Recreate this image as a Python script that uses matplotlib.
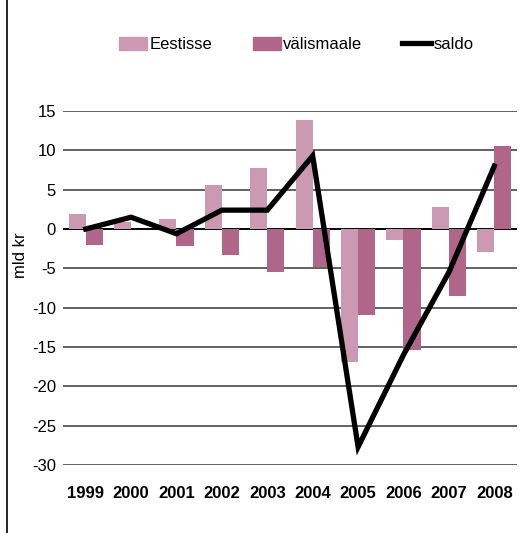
import numpy as np
import matplotlib
matplotlib.use('Agg')
import matplotlib.pyplot as plt
from matplotlib.lines import Line2D
from matplotlib.patches import Patch

plt.rcParams['font.family'] = ['Liberation Sans', 'DejaVu Sans']
plt.rcParams['axes.unicode_minus'] = False

years = ['1999', '2000', '2001', '2002', '2003', '2004', '2005', '2006', '2007', '2008']
eestisse = [1.9, 0.9, 1.3, 5.6, 7.8, 13.9, -16.9, -1.4, 2.8, -2.9]
valismaale = [-2.0, 0.0, -2.2, -3.3, -5.5, -4.8, -10.9, -15.4, -8.5, 10.5]
saldo = [0.0, 1.5, -0.6, 2.4, 2.4, 9.3, -27.7, -16.0, -5.5, 8.0]

c_light = '#cc99b3'
c_dark = '#b0668b'

fig = plt.figure(figsize=(5.27, 5.33), dpi=100)
ax = fig.add_axes([0.1195, 0.1276, 0.8615, 0.6641])

x = np.arange(len(years))
w = 0.375
ax.bar(x - w / 2, eestisse, w, color=c_light, zorder=2)
ax.bar(x + w / 2, valismaale, w, color=c_dark, zorder=2)
ax.plot(x, saldo, color='black', lw=3.8, zorder=3, solid_joinstyle='miter')

ax.set_xlim(-0.5, len(years) - 0.5)
ax.set_ylim(-30, 15)
ax.set_yticks(np.arange(-30, 16, 5))
ax.yaxis.grid(True, color='#555555', lw=1.3, zorder=0)
ax.axhline(0, color='black', lw=1.3, zorder=1)
ax.set_axisbelow(True)
for s in ax.spines.values():
    s.set_visible(False)
ax.tick_params(axis='y', length=0, pad=5, labelsize=12)
ax.tick_params(axis='x', length=0, pad=15, labelsize=12)
ax.set_xticks(x)
ax.set_xticklabels(years, fontweight='bold')
ax.set_ylabel('mld kr', fontsize=12)
ax.yaxis.set_label_coords(-0.078, 0.593)

handles = [Patch(color=c_light, label='Eestisse'),
           Patch(color=c_dark, label='välismaale'),
           Line2D([0], [0], color='black', lw=3.8, label='saldo')]
fig.legend(handles=handles, loc='center', bbox_to_anchor=(0.562, 0.916), ncol=3,
           frameon=False, fontsize=12, handlelength=1.7, handleheight=0.8,
           handletextpad=0.15, columnspacing=2.4)

fig.add_artist(Line2D([0.0133, 0.0133], [0, 1], color='black', lw=1.2,
                      transform=fig.transFigure))

fig.savefig('out.png', dpi=100)
